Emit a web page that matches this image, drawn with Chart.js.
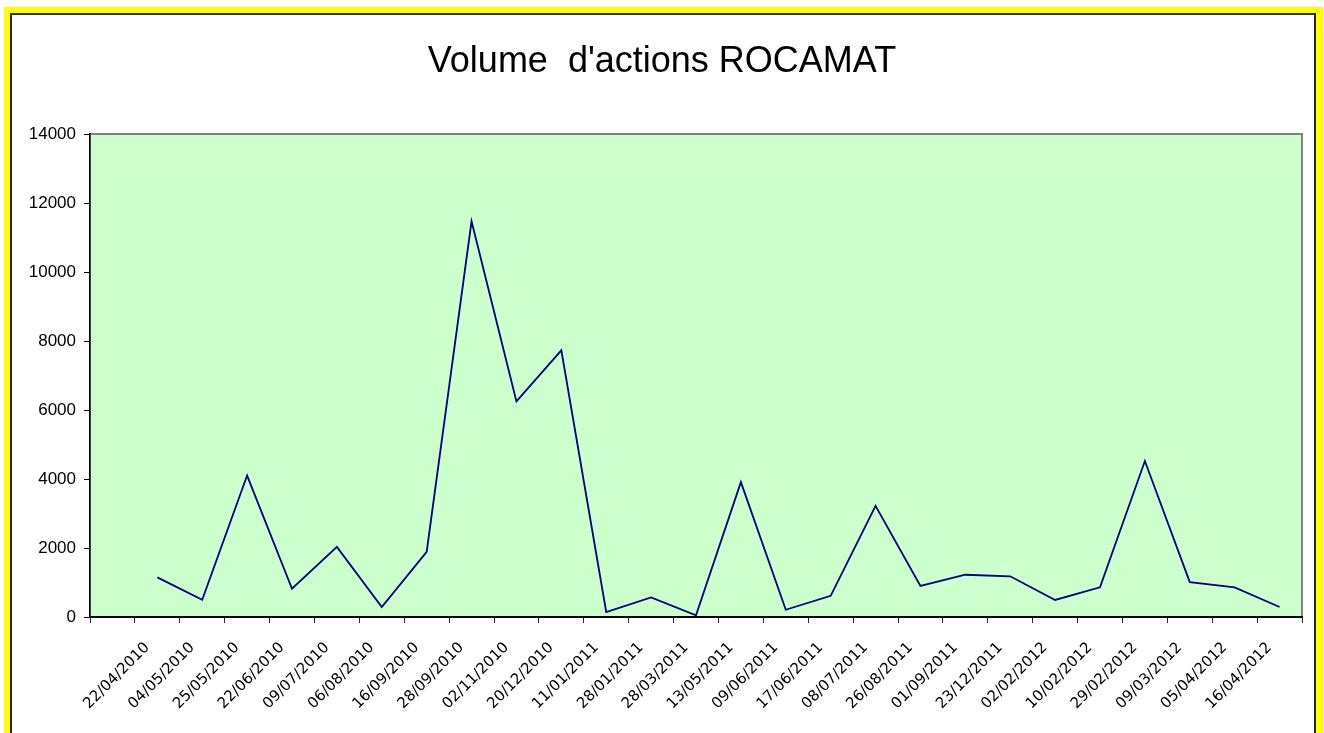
<!DOCTYPE html>
<html>
<head>
<meta charset="utf-8">
<script src="https://cdn.jsdelivr.net/npm/chart.js@4/dist/chart.umd.min.js"></script>
<style>
  body { margin: 0; background: #fff; overflow: hidden; }
  .frame { position: absolute; left: 4px; top: 7px; width: 1319px; height: 760px; background: #ffff00; }
  .inner { position: absolute; left: 6px; top: 6px; width: 1302px; height: 760px; background: #fff;
           border-left: 2px solid #222; border-top: 2px solid #333; border-right: 2px solid #222; }
  #wrap { position: absolute; left: 0; top: 0; width: 1324px; height: 733px; }
  #volChart { display: block; width: 1324px; height: 733px; }
</style>
</head>
<body>
<div class="frame"><div class="inner"></div></div>
<div id="wrap"><canvas id="volChart" width="1324" height="733"></canvas></div>
<script>
// first slot is an empty category in the original sheet
const dates = ['', '22/04/2010', '04/05/2010', '25/05/2010', '22/06/2010', '09/07/2010', '06/08/2010',
  '16/09/2010', '28/09/2010', '02/11/2010', '20/12/2010', '11/01/2011', '28/01/2011', '28/03/2011',
  '13/05/2011', '09/06/2011', '17/06/2011', '08/07/2011', '26/08/2011', '01/09/2011', '23/12/2011',
  '02/02/2012', '10/02/2012', '29/02/2012', '09/03/2012', '05/04/2012', '16/04/2012'];
const volumes = [null, 1150, 500, 4100, 820, 2030, 290, 1890, 11470, 6250, 7730, 145, 570, 50,
  3910, 210, 615, 3220, 900, 1225, 1180, 495, 860, 4520, 1010, 860, 290];
const yMin = 0;
const yMax = 14000;
const yStep = 2000;

// green plot area with grey frame
const plotBg = {
    id: 'plotBg',
    beforeDraw(chart) {
        const { ctx, chartArea: a } = chart;
        ctx.save();
        ctx.fillStyle = '#ccffcc';
        ctx.fillRect(a.left, a.top, a.width, a.height);
        ctx.strokeStyle = '#808080';
        ctx.lineWidth = 2;
        ctx.strokeRect(a.left, a.top, a.width, a.height);
        ctx.restore();
    }
};

new Chart(document.getElementById('volChart'), {
    type: 'line',
    data: {
        labels: dates,
        datasets: [{
            label: 'Volume',
            data: volumes,
            borderColor: '#000080',
            borderWidth: 1.8,
            pointRadius: 0,
            tension: 0,
            spanGaps: false
        }]
    },
    options: {
        responsive: false,
        animation: false,
        devicePixelRatio: 1,
        layout: { padding: { left: 22, right: 22, top: 0, bottom: 0 } },
        plugins: {
            legend: { display: false },
            tooltip: { enabled: false },
            title: {
                display: true,
                text: "Volume  d'actions ROCAMAT",
                color: '#000',
                font: { family: 'Liberation Sans, Arial', size: 36, weight: 'normal' },
                padding: { top: 40, bottom: 50.8 }
            }
        },
        scales: {
            x: {
                type: 'category',
                offset: true,
                grid: { display: true, offset: true, drawOnChartArea: false, tickLength: 6, color: '#222' },
                border: { display: true, color: '#000', width: 2 },
                ticks: {
                    autoSkip: false,
                    minRotation: 45,
                    maxRotation: 45,
                    padding: 16,
                    labelOffset: -10,
                    color: '#000',
                    font: { family: 'DejaVu Sans', size: 15 }
                },
                afterFit(scale) { scale.height = 116; }
            },
            y: {
                min: yMin,
                max: yMax,
                grid: { display: true, drawOnChartArea: false, tickLength: 6, color: '#000' },
                border: { display: true, color: '#000', width: 1.5 },
                ticks: {
                    stepSize: yStep,
                    padding: 8,
                    color: '#000',
                    font: { family: 'Liberation Sans, Arial', size: 17 },
                    callback: v => String(v)
                },
                afterFit(scale) { scale.width = 68; }
            }
        }
    },
    plugins: [plotBg]
});
</script>
</body>
</html>
